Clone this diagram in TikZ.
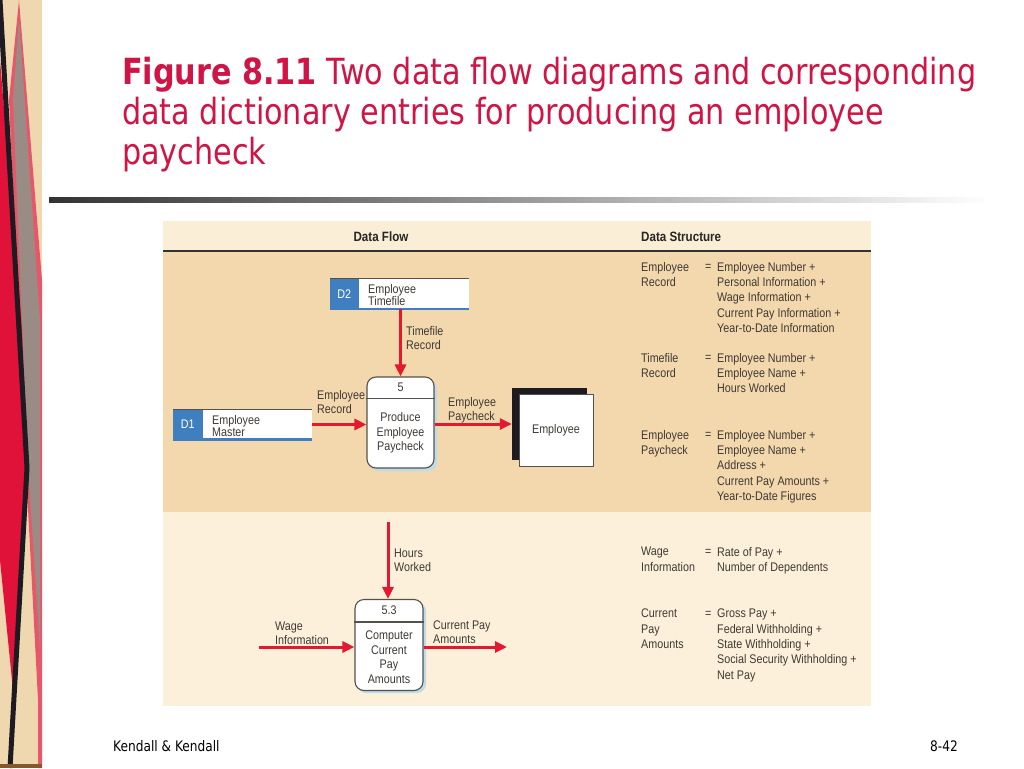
\documentclass[tikz,border=0pt]{standalone}
\usepackage{fontspec}
\setmainfont{DejaVu Sans}
\newfontfamily\tfont[FakeStretch=0.84]{DejaVu Sans}
\newfontfamily\dfont[FakeStretch=0.86]{Liberation Sans}
\usetikzlibrary{arrows.meta}
\definecolor{titlered}{HTML}{CF1446}
\definecolor{flowred}{HTML}{E2192F}
\definecolor{storeblue}{HTML}{3F7FC0}
\definecolor{hdrcream}{HTML}{FBEED6}
\definecolor{uptan}{HTML}{F2D8AC}
\definecolor{lowcream}{HTML}{FDF0DA}
\definecolor{dtext}{HTML}{3F3A35}
\definecolor{procline}{HTML}{55504C}
\definecolor{shadowblue}{HTML}{BCDCEA}
\definecolor{stripbeige}{HTML}{EFD8B0}
\definecolor{stripred}{HTML}{E0123A}
\definecolor{stripgray}{HTML}{9A8C84}
\definecolor{strippink}{HTML}{E8566A}
\definecolor{stripblack}{HTML}{1E1A22}
\definecolor{rulegray}{HTML}{333333}
\begin{document}
\begin{tikzpicture}[x=1pt,y=-1pt,
  ttl/.style={font=\tfont\fontsize{36}{40}\selectfont, text=titlered, inner sep=0, anchor=base west},
  foot/.style={font=\tfont\fontsize{14.5}{16}\selectfont, text=black, inner sep=0},
  lbl/.style={font=\dfont\fontsize{12.5}{14}\selectfont, text=dtext, align=left, inner sep=0, anchor=north west},
  ptext/.style={font=\dfont\fontsize{12.5}{14.5}\selectfont, text=dtext, align=center, inner sep=0},
  stext/.style={font=\dfont\fontsize{12.5}{12.5}\selectfont, text=dtext, align=left, inner sep=0, anchor=north west},
  dd/.style={font=\dfont\fontsize{12.5}{15.3}\selectfont, text=dtext, align=left, inner sep=0, anchor=north west},
  hdr/.style={font=\dfont\bfseries\fontsize{13.5}{15}\selectfont, text=black!85, inner sep=0},
  flow/.style={draw=flowred, line width=3pt, -{Triangle[length=12pt,width=11pt]}},
  proc/.style={draw=procline, line width=1.1pt, rounded corners=9pt, fill=white, inner sep=0},
  store/.style={minimum width=139pt, minimum height=30pt, inner sep=0}
]
\useasboundingbox (0,0) rectangle (1024,768);
\fill[white] (0,0) rectangle (1024,768);

% left decorative strip
\fill[stripbeige] (0,0) rectangle (42,768);
\fill[strippink] (19,0) -- (42,280) -- (42,768) -- (38,768) -- (38,700) -- (26,470) -- (9,100) -- cycle;
\fill[stripgray] (19,18) -- (40,320) -- (40,650) -- (28,468) -- (13,100) -- cycle;
\fill[stripred] (0,60) -- (22,330) -- (26,470) -- (14,700) -- (8,640) -- (0,560) -- cycle;
\draw[stripblack, line width=5pt] (0,0) -- (27,468) -- (10,768);
\fill[brown!70!black] (0,764) rectangle (42,768);

% title
\node[ttl] (t1) at (122,84) {\textbf{Figure 8.11} Two data flow diagrams and corresponding};
\node[ttl] (t2) at (122,124) {data dictionary entries for producing an employee};
\node[ttl] (t3) at (122,164) {paycheck};
\shade[left color=rulegray, right color=white] (49,197.5) rectangle (990,202.5);

% panel
\fill[hdrcream] (163,221) rectangle (871,250);
\fill[uptan] (163,250) rectangle (871,512);
\fill[lowcream] (163,512) rectangle (871,706);
\draw[black!80, line width=2pt] (163,250.5) -- (871,250.5);
\node[hdr] (hflow) at (381,237) {Data Flow};
\node[hdr, anchor=west] (hstruct) at (641,237) {Data Structure};

% upper DFD
\node[store] (d2) at (399.5,294) {};
\fill[white] ([xshift=29pt]d2.north west) rectangle (d2.south east);
\fill[storeblue] (d2.north west) rectangle ([xshift=29pt]d2.south west);
\draw[procline, line width=0.8pt] (d2.north west) -- (d2.north east);
\draw[storeblue, line width=2.5pt] (d2.south west) -- (d2.south east);
\node[font=\dfont\fontsize{12.5}{14}\selectfont, text=white, inner sep=0] (d2id) at ([xshift=14.5pt]d2.west) {D2};
\node[stext] (d2t) at (368,284) {Employee\\Timefile};

\node[store] (d1) at (242.5,424.5) {};
\fill[white] ([xshift=30pt]d1.north west) rectangle (d1.south east);
\fill[storeblue] (d1.north west) rectangle ([xshift=30pt]d1.south west);
\draw[procline, line width=0.8pt] (d1.north west) -- (d1.north east);
\draw[storeblue, line width=2.5pt] (d1.south west) -- (d1.south east);
\node[font=\dfont\fontsize{12.5}{14}\selectfont, text=white, inner sep=0] (d1id) at ([xshift=15pt]d1.west) {D1};
\node[stext] (d1t) at (212,415) {Employee\\Master};

\fill[shadowblue, rounded corners=9pt] (369,380) rectangle (437,471);
\node[proc, minimum width=67pt, minimum height=91pt] (p5) at (400.5,422.5) {};
\draw[procline, line width=1.1pt] ([yshift=-22pt]p5.north west) -- ([yshift=-22pt]p5.north east);
\node[ptext] (p5n) at ([yshift=-11pt]p5.north) {5};
\node[ptext] (p5t) at (400.5,433) {Produce\\Employee\\Paycheck};

\node[fill=stripblack, minimum width=75pt, minimum height=72pt, inner sep=0] (empsh) at (549.5,424) {};
\node[draw=procline, line width=0.8pt, fill=white, minimum width=74pt, minimum height=72pt, inner sep=0,
      font=\dfont\fontsize{12.5}{14}\selectfont, text=dtext] (emp) at (556,430) {Employee};

\draw[flow] (p5.north |- d2.south) -- (p5.north);
\draw[flow] (d1.east) -- (d1.east -| p5.west);
\draw[flow] (p5.east |- empsh.west) -- (empsh.west);

\node[lbl] (l1) at (406,326) {Timefile\\Record};
\node[lbl] (l2) at (317,390) {Employee\\Record};
\node[lbl] (l3) at (448,397) {Employee\\Paycheck};

% lower DFD
\fill[shadowblue, rounded corners=9pt] (357,602) rectangle (426,693);
\node[proc, minimum width=68pt, minimum height=91pt] (p53) at (389,645) {};
\draw[procline, line width=1.1pt] ([yshift=-23pt]p53.north west) -- ([yshift=-23pt]p53.north east);
\node[ptext] (p53n) at ([yshift=-11.5pt]p53.north) {5.3};
\node[ptext] (p53t) at (389,657) {Computer\\Current\\Pay\\Amounts};

\coordinate (hw) at (388,522);
\coordinate (wi) at (259,647);
\coordinate (cpa) at (507,647);
\draw[flow] (hw) -- (hw |- p53.north);
\draw[flow] (wi) -- (wi -| p53.west);
\draw[flow] (p53.east |- cpa) -- (cpa);

\node[lbl] (l4) at (394,549) {Hours\\Worked};
\node[lbl] (l5) at (275,622) {Wage\\Information};
\node[lbl] (l6) at (433,621) {Current Pay\\Amounts};

% data structure entries
\node[dd] (er) at (641,262) {Employee\\Record};
\node[dd] (ereq) at (705,262) {\vphantom{E}=};
\node[dd] (erv) at (717,262) {Employee Number +\\Personal Information +\\Wage Information +\\Current Pay Information +\\Year-to-Date Information};

\node[dd] (tr) at (641,353) {Timefile\\Record};
\node[dd] (treq) at (705,353) {\vphantom{E}=};
\node[dd] (trv) at (717,353) {Employee Number +\\Employee Name +\\Hours Worked};

\node[dd] (ep) at (641,430) {Employee\\Paycheck};
\node[dd] (epeq) at (705,430) {\vphantom{E}=};
\node[dd] (epv) at (717,430) {Employee Number +\\Employee Name +\\Address +\\Current Pay Amounts +\\Year-to-Date Figures};

\node[dd] (wd) at (641,547) {Wage\\Information};
\node[dd] (wdeq) at (705,547) {\vphantom{E}=};
\node[dd] (wdv) at (717,547) {Rate of Pay +\\Number of Dependents};

\node[dd] (cp) at (641,609) {Current\\Pay\\Amounts};
\node[dd] (cpeq) at (705,609) {\vphantom{E}=};
\node[dd] (cpv) at (717,609) {Gross Pay +\\Federal Withholding +\\State Withholding +\\Social Security Withholding +\\Net Pay};

% footer
\node[foot, anchor=west] (f1) at (113,746) {Kendall \& Kendall};
\node[foot, anchor=east] (f2) at (958,746) {8-42};
\end{tikzpicture}
\end{document}
